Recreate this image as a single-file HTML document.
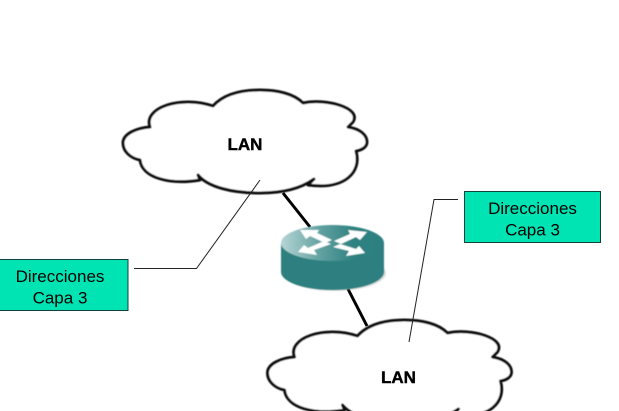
<!DOCTYPE html>
<html>
<head>
<meta charset="utf-8">
<style>
html,body{margin:0;padding:0;background:#fff;}
body{width:619px;height:411px;overflow:hidden;}
svg{display:block;}
text{font-family:"Liberation Sans",Arial,sans-serif;fill:#000;}
</style>
</head>
<body>
<svg width="619" height="411" viewBox="0 0 619 411" xmlns="http://www.w3.org/2000/svg">
<defs>
<linearGradient id="top" x1="0" y1="0" x2="1" y2="0">
<stop offset="0" stop-color="#b5d5d5"/>
<stop offset="0.4" stop-color="#5f9f9f"/>
<stop offset="0.7" stop-color="#2f8282"/>
<stop offset="1" stop-color="#2e8080"/>
</linearGradient>
<filter id="soft" x="-5%" y="-5%" width="110%" height="110%"><feGaussianBlur stdDeviation="0.4"/></filter>
<path id="cloud" d="M213,106 C224,94 242,90 260,90 C278,90 294,94 303,103 C326,98 362,108 353,122 L348,127 C360,129 367,135 367,142 C367,147 362,150 356,151 C362,172 345,190 308,185 L314,179 C300,189 280,193 260,193 C232,193 208,187 198,175 L200,180 C170,185 142,178 140,160 C130,158 123,151 123,143 C123,134 136,128 150,127 C143,108 180,95 213,106 Z"/>
</defs>

<!-- connectors -->
<path d="M283,193 L310,227" stroke="#000" stroke-width="3" fill="none"/>
<path d="M348,289 L367,326" stroke="#000" stroke-width="3" fill="none"/>

<!-- clouds -->
<use href="#cloud" fill="#fff" stroke="#111" stroke-width="3" stroke-linejoin="round" filter="url(#soft)"/>
<use href="#cloud" transform="translate(144.5,230)" fill="#fff" stroke="#111" stroke-width="3" stroke-linejoin="round" filter="url(#soft)"/>

<!-- router -->
<g filter="url(#soft)">
<ellipse cx="334.5" cy="273" rx="51.5" ry="18" fill="#9a9a9a" opacity="0.35"/>
<path d="M281,243 L281,272 A51.5,18 0 0 0 384,272 L384,243 Z" fill="#2e8080"/>
<ellipse cx="332.5" cy="243" rx="51.5" ry="18" fill="url(#top)"/>
<g fill="#fff">
<polygon points="300,230 319,230 317,233 332,240 325,243 310,236 306,239"/>
<polygon points="367,232 348,230 350,234 334,241 341,244 356,237 360,240"/>
<polygon points="298,252 317,255 314,250 331,244 324,241 308,248 304,245"/>
<polygon points="365,253 346,256 349,251 333,247 340,244 356,249 359,246"/>
</g>
</g>

<!-- callout lines -->
<path d="M134,268.5 L196.5,268.5 L260,180" stroke="#222" stroke-width="1" fill="none"/>
<path d="M458,199.5 L434,199.5 L409,342" stroke="#222" stroke-width="1" fill="none"/>

<!-- labels -->
<text x="245" y="150" font-size="17" font-weight="bold" text-anchor="middle" stroke="#000" stroke-width="0.4">LAN</text>
<text x="398.5" y="383" font-size="17" font-weight="bold" text-anchor="middle" stroke="#000" stroke-width="0.4">LAN</text>

<!-- boxes -->
<rect x="-2" y="259.5" width="130" height="51" fill="#00e3b2" stroke="#14423a" stroke-width="1"/>
<text x="60" y="282" font-size="17" text-anchor="middle">Direcciones</text>
<text x="60" y="303.5" font-size="17" text-anchor="middle">Capa 3</text>

<rect x="464.5" y="191.5" width="136" height="51" fill="#00e3b2" stroke="#14423a" stroke-width="1"/>
<text x="532.5" y="214" font-size="17" text-anchor="middle">Direcciones</text>
<text x="532.5" y="235.5" font-size="17" text-anchor="middle">Capa 3</text>
</svg>
</body>
</html>
